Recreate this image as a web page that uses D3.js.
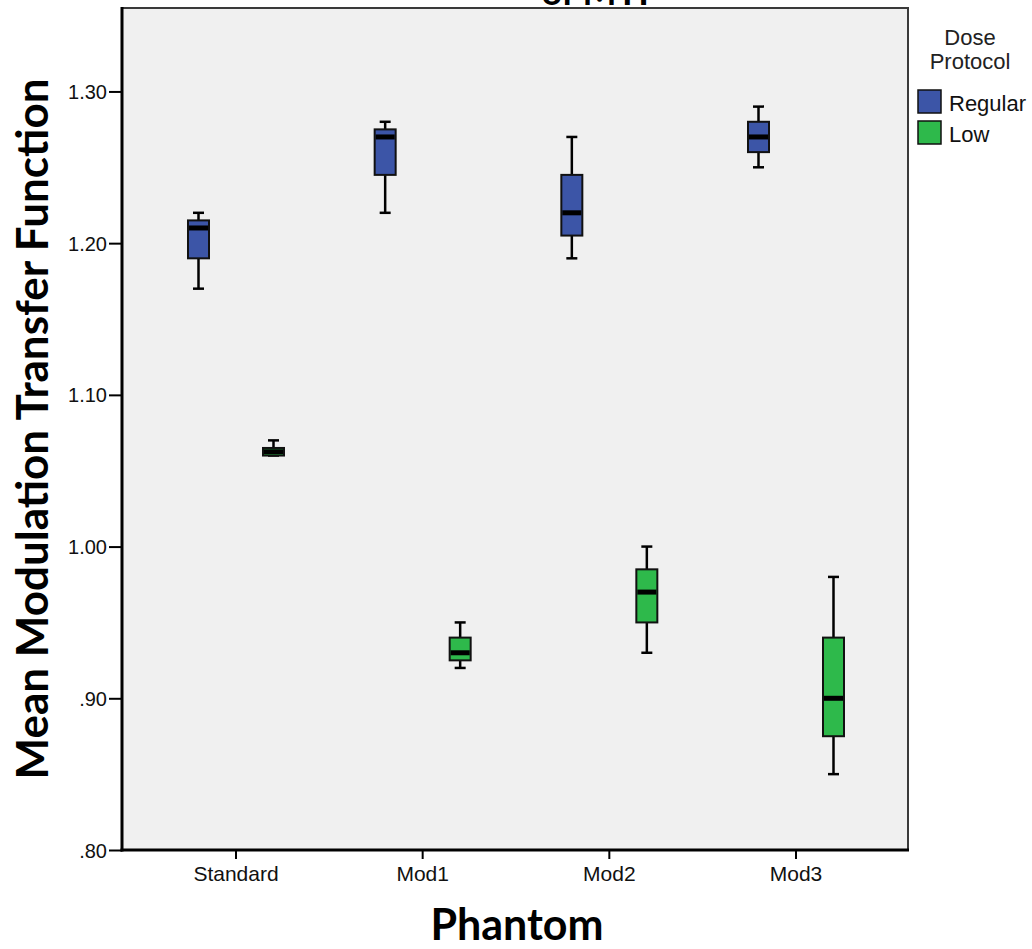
<!DOCTYPE html>
<html lang="en">
<head>
    <meta charset="UTF-8">
    <script src="https://cdnjs.cloudflare.com/ajax/libs/d3/7.8.5/d3.min.js"></script>
    <style>
        body { margin: 0; background: #fff; }
        text { font-family: "Liberation Sans", Arial, sans-serif; }
        .bold { font-family: Lato, "Open Sans", sans-serif; font-weight: 700; }
    </style>
    <title>MTF boxplot</title>
</head>
<body>
    <div id="chart"></div>
    <script>
        // phantoms on the x axis, two dose protocols per phantom
        var categories = ["Standard", "Mod1", "Mod2", "Mod3"];
        var protocols = ["Regular", "Low"];
        var colours = ["#3c55a7", "#2eb94b"];

        // [min, q1, median, q3, max] per phantom
        var regularStats = [
            [1.17, 1.19, 1.21, 1.215, 1.22],
            [1.22, 1.245, 1.27, 1.275, 1.28],
            [1.19, 1.205, 1.22, 1.245, 1.27],
            [1.25, 1.26, 1.27, 1.28, 1.29]
        ];
        var lowStats = [
            [1.06, 1.06, 1.0625, 1.065, 1.07],
            [0.92, 0.925, 0.93, 0.94, 0.95],
            [0.93, 0.95, 0.97, 0.985, 1.00],
            [0.85, 0.875, 0.90, 0.94, 0.98]
        ];
        var yTicks = [0.80, 0.90, 1.00, 1.10, 1.20, 1.30];

        function drawChart() {
            var width = 1032,
                height = 949,
                pLeft = 122, pRight = 908, pTop = 8, pBottom = 850,
                boxW = 21, capW = 11;

            var svg = d3.select('#chart')
                .append('svg')
                .attr('width', width)
                .attr('height', height);

            var x = d3.scaleBand()
                .domain(categories)
                .range([124, pRight])
                .paddingOuter(0.1);
            var sub = d3.scalePoint()
                .domain(protocols)
                .range([-37.5, 37.5]);
            var y = d3.scaleLinear()
                .domain([0.80, 1.355])
                .range([pBottom, pTop]);

            var colour = d3.scaleOrdinal().domain(protocols).range(colours);

            // title, mostly cut off at the top edge
            svg.append('text')
                .attr('class', 'bold')
                .attr('x', 600)
                .attr('y', 5)
                .attr('text-anchor', 'middle')
                .style('font-size', '36px')
                .text('of MTF');

            // plot area
            svg.append('rect')
                .attr('x', pLeft)
                .attr('y', pTop)
                .attr('width', pRight - pLeft)
                .attr('height', pBottom - pTop)
                .attr('fill', '#f0f0f0')
                .attr('stroke', '#3a3a3a')
                .attr('stroke-width', 2);

            var rows = [];
            categories.forEach(function (c, i) {
                rows.push({ cat: c, prot: 'Regular', s: regularStats[i] });
                rows.push({ cat: c, prot: 'Low', s: lowStats[i] });
            });

            var box = svg.append('g').selectAll('.box')
                .data(rows)
                .enter()
                .append('g')
                .attr('class', 'box')
                .attr('transform', function (d) {
                    return 'translate(' + (x(d.cat) + x.bandwidth() / 2 + sub(d.prot)) + ',0)';
                });

            // whiskers
            box.append('line')
                .attr('y1', function (d) { return y(d.s[0]); })
                .attr('y2', function (d) { return y(d.s[4]); })
                .attr('stroke', '#000')
                .attr('stroke-width', 2.5);
            box.selectAll('.cap')
                .data(function (d) { return [d.s[0], d.s[4]]; })
                .enter()
                .append('line')
                .attr('class', 'cap')
                .attr('x1', -capW / 2)
                .attr('x2', capW / 2)
                .attr('y1', function (v) { return y(v); })
                .attr('y2', function (v) { return y(v); })
                .attr('stroke', '#000')
                .attr('stroke-width', 2.5);

            box.append('rect')
                .attr('x', -boxW / 2)
                .attr('width', boxW)
                .attr('y', function (d) { return y(d.s[3]); })
                .attr('height', function (d) { return Math.max(y(d.s[1]) - y(d.s[3]), 1); })
                .attr('fill', function (d) { return colour(d.prot); })
                .attr('stroke', '#111')
                .attr('stroke-width', 2);

            box.append('line')
                .attr('x1', -boxW / 2 + 1)
                .attr('x2', boxW / 2 - 1)
                .attr('y1', function (d) { return y(d.s[2]); })
                .attr('y2', function (d) { return y(d.s[2]); })
                .attr('stroke', '#000')
                .attr('stroke-width', 5);

            // axes
            var fmt = function (v) { return d3.format('.2f')(v).replace(/^0/, ''); };

            var yAxis = svg.append('g')
                .attr('transform', 'translate(' + pLeft + ',0)')
                .call(d3.axisLeft(y).tickValues(yTicks).tickFormat(fmt).tickSize(13).tickPadding(2));
            var xAxis = svg.append('g')
                .attr('transform', 'translate(0,' + pBottom + ')')
                .call(d3.axisBottom(x).tickSize(9).tickPadding(7));

            [yAxis, xAxis].forEach(function (a) {
                a.select('.domain').remove();
                a.selectAll('.tick line').attr('stroke', '#000').attr('stroke-width', 2);
                a.selectAll('.tick text')
                    .attr('fill', '#111')
                    .style('font-family', '"Liberation Sans", Arial, sans-serif')
                    .style('font-size', '20px');
            });
            yAxis.selectAll('.tick text').attr('dy', '0.35em');
            xAxis.selectAll('.tick text').style('font-size', '21px');

            svg.append('line')
                .attr('x1', pLeft).attr('x2', pLeft)
                .attr('y1', pTop - 1).attr('y2', pBottom + 1.5)
                .attr('stroke', '#000').attr('stroke-width', 3);
            svg.append('line')
                .attr('x1', pLeft - 1.5).attr('x2', pRight + 1)
                .attr('y1', pBottom).attr('y2', pBottom)
                .attr('stroke', '#000').attr('stroke-width', 3);

            // axis titles
            svg.append('text')
                .attr('class', 'bold')
                .attr('transform', 'translate(48,429) rotate(-90)')
                .attr('text-anchor', 'middle')
                .style('font-size', '44px')
                .text('Mean Modulation Transfer Function');

            svg.append('text')
                .attr('class', 'bold')
                .attr('x', 517)
                .attr('y', 940)
                .attr('text-anchor', 'middle')
                .style('font-size', '43px')
                .text('Phantom');

            // legend
            var legend = svg.append('g');
            legend.append('text')
                .attr('x', 970).attr('y', 45)
                .attr('text-anchor', 'middle')
                .style('font-size', '22px')
                .attr('fill', '#222')
                .text('Dose');
            legend.append('text')
                .attr('x', 970).attr('y', 69)
                .attr('text-anchor', 'middle')
                .style('font-size', '22px')
                .attr('fill', '#222')
                .text('Protocol');

            var item = legend.selectAll('.item')
                .data(protocols)
                .enter()
                .append('g')
                .attr('class', 'item')
                .attr('transform', function (d, i) {
                    return 'translate(918, ' + (90 + i * 31) + ')';
                });
            item.append('rect')
                .attr('width', 23)
                .attr('height', 23)
                .attr('fill', function (d) { return colour(d); })
                .attr('stroke', '#111')
                .attr('stroke-width', 1.5);
            item.append('text')
                .attr('x', 31)
                .attr('y', 21)
                .style('font-size', '22px')
                .attr('fill', '#111')
                .text(function (d) { return d; });
        }
        drawChart();
    </script>
</body>
</html>
